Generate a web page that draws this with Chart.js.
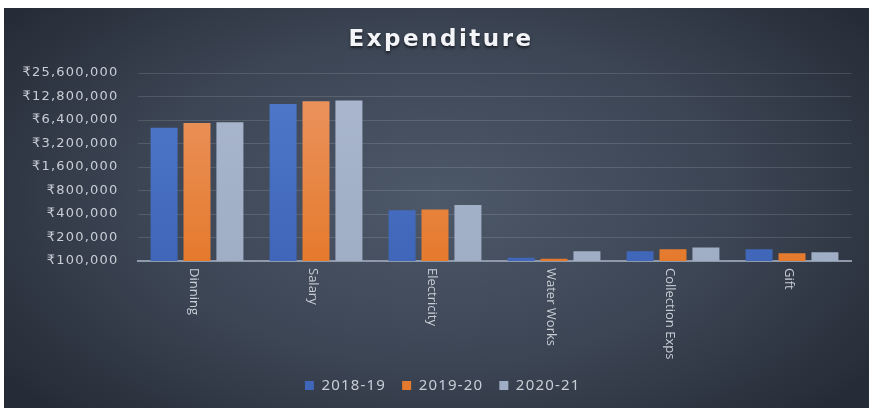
<!DOCTYPE html>
<html>
<head>
<meta charset="utf-8">
<script src="https://cdn.jsdelivr.net/npm/chart.js@4.4.1/dist/chart.umd.min.js"></script>
<style>
  html, body { margin: 0; padding: 0; background: #fff; }
  #panel {
    position: absolute; left: 4px; top: 8px; width: 865px; height: 400px;
    background: radial-gradient(ellipse 62% 75% at 50% 48%, #4d5869 0%, #3c4554 55%, #262c37 100%);
  }
  canvas { display: block; }
</style>
</head>
<body>
<div id="panel"><canvas id="expChart"></canvas></div>
<script>
const categories = ['Dinning', 'Salary', 'Electricity', 'Water Works', 'Collection Exps', 'Gift'];
const years = ['2018-19', '2019-20', '2020-21'];
const spend1819 = [5090000, 10250000, 447000, 110000, 133000, 141000];
const spend1920 = [5840000, 11100000, 456000, 107000, 141000, 126000];
const spend2021 = [6000000, 11400000, 522000, 133000, 149000, 129000];
const yTicks = [100000, 200000, 400000, 800000, 1600000, 3200000, 6400000, 12800000, 25600000];

const labelColor = '#c9ced6';

// vertical gradient for the bars, like the Excel fill
function grad(c, top, bottom) {
    const area = c.chart.chartArea;
    if (!area) return bottom;
    const g = c.chart.ctx.createLinearGradient(0, area.top, 0, area.bottom);
    g.addColorStop(0, top);
    g.addColorStop(1, bottom);
    return g;
}

const spacing = {
    id: 'spacing',
    beforeLayout(chart) { chart.ctx.letterSpacing = '1.2px'; },
    afterLayout(chart) {
        // legend sits a bit right of the canvas centre in the original
        chart.legend.left += 15;
        chart.legend.right += 15;
    },
    beforeDraw(chart) { chart.ctx.letterSpacing = '1.2px'; }
};

const extraText = {
    id: 'extraText',
    afterDraw(chart) {
        const ctx = chart.ctx;
        const xs = chart.scales.x;
        // title
        ctx.save();
        ctx.letterSpacing = '2.5px';
        ctx.font = 'bold 23px "DejaVu Sans"';
        ctx.fillStyle = '#f2f4f7';
        ctx.textAlign = 'center';
        ctx.textBaseline = 'middle';
        ctx.shadowColor = 'rgba(0,0,0,0.6)';
        ctx.shadowBlur = 3;
        ctx.shadowOffsetY = 2;
        ctx.fillText('Expenditure', 437, 32);
        ctx.restore();
        // category labels, rotated clockwise
        categories.forEach((c, i) => {
            ctx.save();
            ctx.letterSpacing = '0px';
            ctx.font = '13px "Open Sans"';
            ctx.fillStyle = labelColor;
            ctx.translate(xs.getPixelForTick(i) - 3, chart.chartArea.bottom + 7);
            ctx.rotate(Math.PI / 2);
            ctx.textAlign = 'left';
            ctx.textBaseline = 'middle';
            ctx.fillText(c, 0, 0);
            ctx.restore();
        });
    }
};

new Chart(document.getElementById('expChart'), {
    type: 'bar',
    data: {
        labels: categories,
        datasets: [
            { label: years[0], data: spend1819, backgroundColor: c => grad(c, '#5079cc', '#3f66b8') },
            { label: years[1], data: spend1920, backgroundColor: c => grad(c, '#eb9665', '#e57a2c') },
            { label: years[2], data: spend2021, backgroundColor: c => grad(c, '#aab7ce', '#9fadc5') }
        ]
    },
    options: {
        responsive: true,
        maintainAspectRatio: false,
        animation: false,
        categoryPercentage: 0.83,
        barPercentage: 0.82,
        layout: { padding: { top: 65, left: 0, right: 17.5, bottom: 5 } },
        plugins: {
            title: { display: false },
            tooltip: { enabled: false },
            legend: {
                position: 'bottom',
                labels: {
                    color: labelColor,
                    font: { family: '"Noto Sans"', size: 15 },
                    boxWidth: 9,
                    boxHeight: 9,
                    padding: 16
                }
            }
        },
        scales: {
            x: {
                grid: { display: false },
                border: { display: true, color: '#8e99ab', width: 2 },
                ticks: { display: false },
                afterFit(scale) { scale.height = 101; }
            },
            y: {
                type: 'logarithmic',
                min: 100000,
                max: 25600000,
                afterBuildTicks(scale) { scale.ticks = yTicks.map(v => ({ value: v })); },
                afterFit(scale) { scale.width = 133.5; },
                grid: { color: 'rgba(255,255,255,0.13)', drawTicks: false },
                border: { display: false },
                ticks: {
                    color: labelColor,
                    padding: 19,
                    font: { family: '"DejaVu Sans"', size: 13 },
                    callback: v => '₹' + Number(v).toLocaleString('en-US')
                }
            }
        }
    },
    plugins: [spacing, extraText]
});
</script>
</body>
</html>
